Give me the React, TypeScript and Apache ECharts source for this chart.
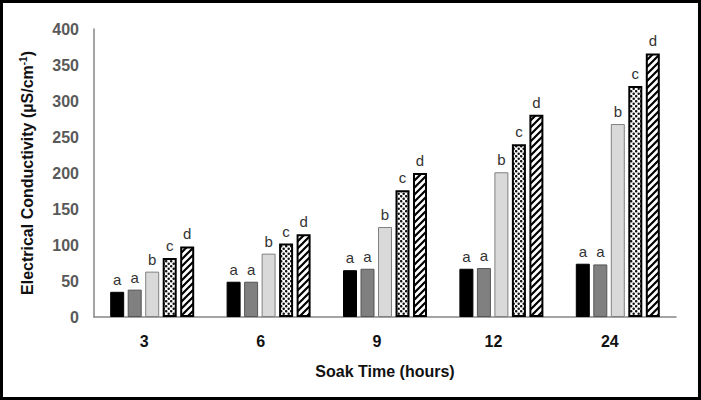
import React, { useEffect, useRef } from "react";
import * as echarts from "echarts";

const categories = ["3", "6", "9", "12", "24"];
const seriesA = [35, 49, 65, 67, 74];
const seriesB = [38, 49, 67, 68, 73];
const seriesC = [63, 88, 125, 201, 268];
const seriesD = [82, 102, 176, 240, 321];
const seriesE = [98, 115, 200, 281, 366];
const letters = ["a", "a", "b", "c", "d"];
const yTicks = { min: 0, max: 400, interval: 50 };

function makeHatch(): HTMLCanvasElement {
  const c = document.createElement("canvas");
  c.width = 7;
  c.height = 7;
  const ctx = c.getContext("2d")!;
  ctx.fillStyle = "#ffffff";
  ctx.fillRect(0, 0, 7, 7);
  ctx.strokeStyle = "#000000";
  ctx.lineWidth = 2.2;
  ctx.beginPath();
  for (let k = -1; k <= 1; k++) {
    ctx.moveTo(-1 + k * 7, 8);
    ctx.lineTo(8 + k * 7, -1);
  }
  ctx.stroke();
  return c;
}

function makeDots(): HTMLCanvasElement {
  const c = document.createElement("canvas");
  c.width = 5;
  c.height = 5;
  const ctx = c.getContext("2d")!;
  ctx.fillStyle = "#ffffff";
  ctx.fillRect(0, 0, 5, 5);
  ctx.fillStyle = "#111111";
  const pts = [
    [1.2, 1.2],
    [3.7, 3.7],
  ];
  for (const [x, y] of pts) {
    ctx.beginPath();
    ctx.arc(x, y, 1.25, 0, Math.PI * 2);
    ctx.fill();
  }
  return c;
}

export default function App() {
  const ref = useRef<HTMLDivElement>(null);
  useEffect(() => {
    document.body.style.margin = "0";
    const chart = echarts.init(ref.current!, null, { renderer: "svg" });
    const hatch = makeHatch();
    const dots = makeDots();
    const labelCfg = (letter: string) => ({
      show: true,
      position: "top",
      distance: 5,
      formatter: () => letter,
      color: "#333333",
      fontSize: 15,
      fontFamily: "Liberation Sans, Arial, sans-serif",
    });
    const mk = (data: number[], idx: number, itemStyle: any) => ({
      type: "bar",
      data,
      barWidth: 14,
      barGap: "25%",
      itemStyle,
      label: labelCfg(letters[idx]),
    });
    chart.setOption({
      animation: false,
      backgroundColor: "#ffffff",
      textStyle: { fontFamily: "Liberation Sans, Arial, sans-serif" },
      graphic: [
        {
          type: "rect",
          shape: { x: 1.5, y: 1.5, width: 698, height: 397 },
          style: { fill: "none", stroke: "#000000", lineWidth: 3 },
          silent: true,
        },
      ],
      grid: { left: 94, right: 25, top: 29, bottom: 83, containLabel: false },
      xAxis: {
        type: "category",
        data: categories,
        axisLine: { lineStyle: { color: "#868686", width: 1.5 } },
        axisTick: { show: false },
        axisLabel: {
          color: "#111111",
          fontWeight: "bold",
          fontSize: 16,
          margin: 16,
          padding: [0, 16, 0, 0],
        },
        name: "Soak Time (hours)",
        nameLocation: "middle",
        nameGap: 46,
        nameTextStyle: { color: "#111111", fontWeight: "bold", fontSize: 16 },
      },
      yAxis: {
        type: "value",
        min: yTicks.min,
        max: yTicks.max,
        interval: yTicks.interval,
        splitLine: { show: false },
        axisLine: { show: true, lineStyle: { color: "#868686", width: 1.5 } },
        axisTick: { show: false },
        axisLabel: { color: "#595959", fontWeight: "bold", fontSize: 16, margin: 15 },
        name: "Electrical Conductivity (µS/cm{sup|-1})",
        nameLocation: "middle",
        nameGap: 58,
        nameTextStyle: {
          color: "#111111",
          fontWeight: "bold",
          fontSize: 16,
          rich: {
            sup: { fontSize: 10, fontWeight: "bold", color: "#111111", verticalAlign: "top", padding: [0, 0, 8, 0] },
          },
        },
      },
      series: [
        mk(seriesA, 0, { color: "#000000", borderColor: "#000000", borderWidth: 1 }),
        mk(seriesB, 1, { color: "#808080", borderColor: "#555555", borderWidth: 1 }),
        mk(seriesC, 2, { color: "#d9d9d9", borderColor: "#808080", borderWidth: 1 }),
        mk(seriesD, 3, {
          color: { image: dots, repeat: "repeat" },
          borderColor: "#000000",
          borderWidth: 2,
        }),
        mk(seriesE, 4, {
          color: { image: hatch, repeat: "repeat" },
          borderColor: "#000000",
          borderWidth: 2,
        }),
      ],
    });
    return () => chart.dispose();
  }, []);
  return <div ref={ref} style={{ width: 701, height: 400 }} />;
}
